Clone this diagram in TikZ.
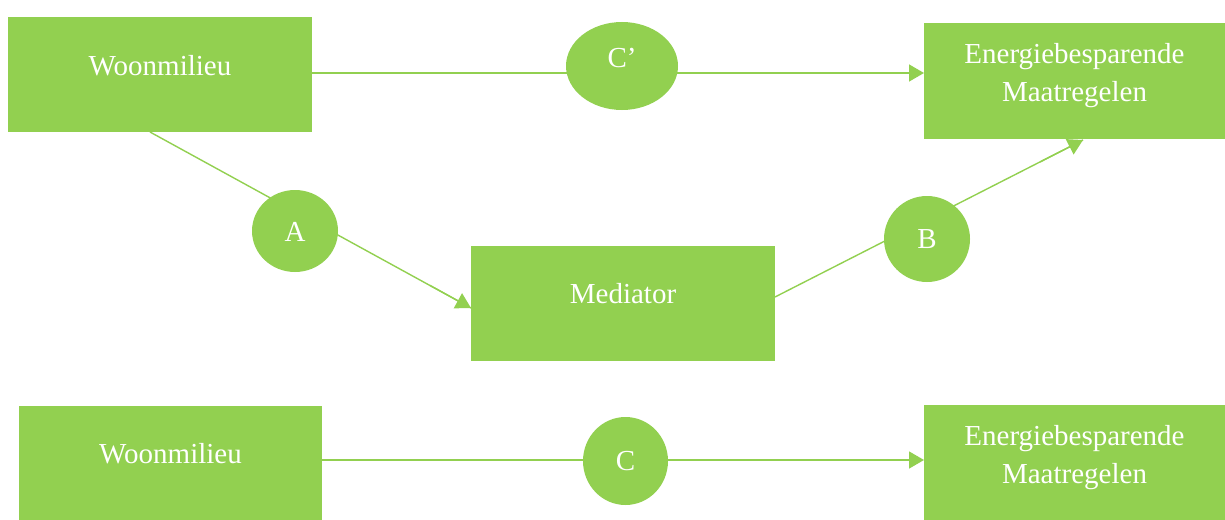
\documentclass[tikz,border=0pt]{standalone}
\usepackage{fontspec}
\setmainfont{Liberation Serif}
\usetikzlibrary{arrows.meta,shapes.geometric}
\definecolor{lgreen}{HTML}{92D050}
\tikzset{
  box/.style={fill=lgreen, draw=none, minimum width=#1, inner sep=0pt},
  oval/.style={ellipse, fill=lgreen, draw=none, inner sep=0pt},
  lbl/.style={text=white, font=\fontsize{29}{38}\selectfont, inner sep=0pt, align=center},
  conn/.style={draw=lgreen, line width=1.4pt, -{Triangle[length=15pt,width=17pt]}},
  plain/.style={draw=lgreen, line width=1.4pt},
}
\begin{document}
\begin{tikzpicture}[x=1pt,y=-1pt]
\useasboundingbox (0,0) rectangle (1225,519);
% boxes
\node[box=304pt, minimum height=115pt] (w1) at (160,74.5) {};
\node[box=301pt, minimum height=116pt] (e1) at (1074.5,81) {};
\node[box=304pt, minimum height=115pt] (med) at (623,303.5) {};
\node[box=303pt, minimum height=120pt] (w2) at (170.5,466) {};
\node[box=301pt, minimum height=120pt] (e2) at (1074.5,465) {};
% connectors
\draw[conn] (312,73) -- (924,73);
\draw[plain] (150,132) -- (471,308);
\draw[conn] (430,285.4) -- (471,308);
\draw[plain] (775,297) -- (1083,140);
\draw[conn] (1040,162) -- (1083,140);
\draw[conn] (322,460) -- (924,460);
% ovals
\node[oval, minimum width=112pt, minimum height=88pt] (cp) at (622,66) {};
\node[oval, minimum width=86pt, minimum height=82pt] (a) at (295,231) {};
\node[oval, minimum width=86pt, minimum height=86pt] (b) at (927,239) {};
\node[oval, minimum width=85pt, minimum height=88pt] (c) at (625.5,461) {};
% labels
\node[lbl] (tw1) at (160,66) {Woonmilieu};
\node[lbl] (te1) at (1074.5,75.5) {Energiebesparende\\Maatregelen};
\node[lbl] (tmed) at (623,294) {Mediator};
\node[lbl] (tw2) at (170.5,454) {Woonmilieu};
\node[lbl] (te2) at (1074.5,457.5) {Energiebesparende\\Maatregelen};
\node[lbl] (tcp) at (622,58) {C’};
\node[lbl] (ta) at (295,232) {A};
\node[lbl] (tb) at (927,239) {B};
\node[lbl] (tc) at (625.5,461) {C};
\end{tikzpicture}
\end{document}
